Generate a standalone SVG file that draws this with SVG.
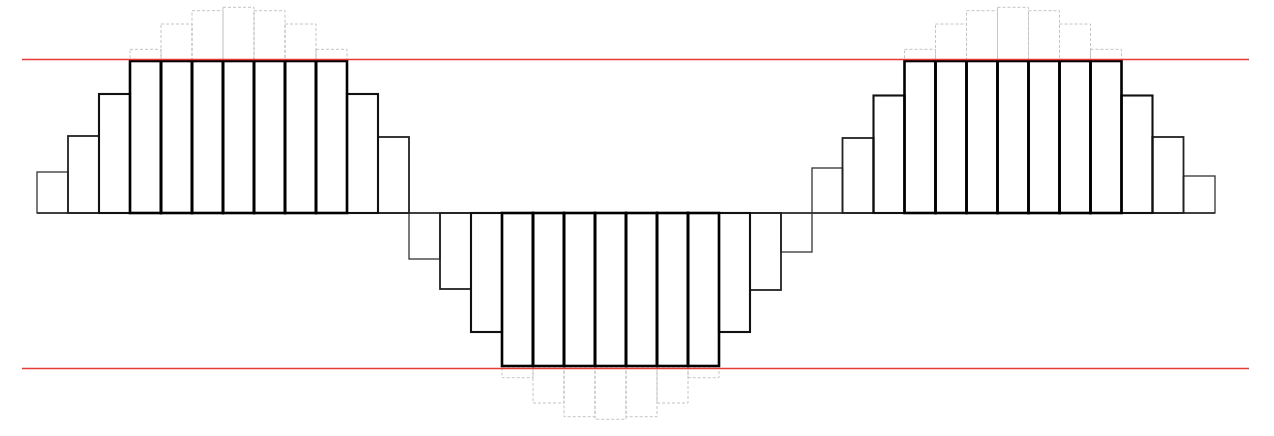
<svg xmlns="http://www.w3.org/2000/svg" width="1274" height="436" viewBox="0 0 1274 436">
<style>
.ghost{fill:none;stroke:#c4c4c4;stroke-width:1;stroke-dasharray:3 2}
.b1{fill:none;stroke:#333;stroke-width:1.3}
.b2{fill:none;stroke:#222;stroke-width:1.8}
.b3{fill:none;stroke:#111;stroke-width:2.1}
.bc{fill:none;stroke:#000;stroke-width:2.6}
.lim{stroke:#e53935;stroke-width:1.5}
.base{stroke:#222;stroke-width:1.3}
</style>
<rect width="1274" height="436" fill="#fff"/>
<g id="ghosts">
<rect class="ghost" x="130" y="49.3" width="31" height="11"/>
<rect class="ghost" x="161" y="24" width="31" height="36"/>
<rect class="ghost" x="192" y="10.7" width="31" height="49"/>
<rect class="ghost" x="223" y="7.3" width="31" height="53"/>
<rect class="ghost" x="254" y="10.7" width="31" height="49"/>
<rect class="ghost" x="285" y="24" width="31" height="36"/>
<rect class="ghost" x="316" y="49.3" width="31" height="11"/>
<rect class="ghost" x="502" y="367" width="31" height="10.7"/>
<rect class="ghost" x="533" y="367" width="31" height="36"/>
<rect class="ghost" x="564" y="367" width="31" height="49.7"/>
<rect class="ghost" x="595" y="367" width="31" height="52.3"/>
<rect class="ghost" x="626" y="367" width="31" height="49.7"/>
<rect class="ghost" x="657" y="367" width="31" height="36"/>
<rect class="ghost" x="688" y="367" width="31" height="10.7"/>
<rect class="ghost" x="904.5" y="49.3" width="31" height="11"/>
<rect class="ghost" x="935.5" y="24" width="31" height="36"/>
<rect class="ghost" x="966.5" y="10.7" width="31" height="49"/>
<rect class="ghost" x="997.5" y="7.3" width="31" height="53"/>
<rect class="ghost" x="1028.5" y="10.7" width="31" height="49"/>
<rect class="ghost" x="1059.5" y="24" width="31" height="36"/>
<rect class="ghost" x="1090.5" y="49.3" width="31" height="11"/>
</g>
<g id="baseline">
<line class="base" x1="37" y1="213" x2="1215" y2="213"/>
</g>
<g id="bars-small">
<rect class="b1" x="37" y="172" width="31" height="41"/>
<rect class="b1" x="409" y="213" width="31" height="46"/>
<rect class="b1" x="781" y="213" width="31" height="39"/>
<rect class="b1" x="812" y="168" width="30.5" height="45"/>
<rect class="b1" x="1183.5" y="176" width="31.5" height="37"/>
</g>
<g id="bars-medium">
<rect class="b2" x="68" y="136" width="31" height="77"/>
<rect class="b2" x="378" y="137" width="31" height="76"/>
<rect class="b2" x="440" y="213" width="31" height="76"/>
<rect class="b2" x="750" y="213" width="31" height="77"/>
<rect class="b2" x="842.5" y="138" width="31" height="75"/>
<rect class="b2" x="1152.5" y="137" width="31" height="76"/>
</g>
<g id="bars-large">
<rect class="b3" x="99" y="94" width="31" height="119"/>
<rect class="b3" x="347" y="94" width="31" height="119"/>
<rect class="b3" x="471" y="213" width="31" height="119"/>
<rect class="b3" x="719" y="213" width="31" height="119"/>
<rect class="b3" x="873.5" y="95.5" width="31" height="117.5"/>
<rect class="b3" x="1121.5" y="95.5" width="31" height="117.5"/>
</g>
<g id="bars-clipped">
<rect class="bc" x="130" y="61" width="31" height="152"/>
<rect class="bc" x="161" y="61" width="31" height="152"/>
<rect class="bc" x="192" y="61" width="31" height="152"/>
<rect class="bc" x="223" y="61" width="31" height="152"/>
<rect class="bc" x="254" y="61" width="31" height="152"/>
<rect class="bc" x="285" y="61" width="31" height="152"/>
<rect class="bc" x="316" y="61" width="31" height="152"/>
<rect class="bc" x="502" y="213" width="31" height="153"/>
<rect class="bc" x="533" y="213" width="31" height="153"/>
<rect class="bc" x="564" y="213" width="31" height="153"/>
<rect class="bc" x="595" y="213" width="31" height="153"/>
<rect class="bc" x="626" y="213" width="31" height="153"/>
<rect class="bc" x="657" y="213" width="31" height="153"/>
<rect class="bc" x="688" y="213" width="31" height="153"/>
<rect class="bc" x="904.5" y="61" width="31" height="152"/>
<rect class="bc" x="935.5" y="61" width="31" height="152"/>
<rect class="bc" x="966.5" y="61" width="31" height="152"/>
<rect class="bc" x="997.5" y="61" width="31" height="152"/>
<rect class="bc" x="1028.5" y="61" width="31" height="152"/>
<rect class="bc" x="1059.5" y="61" width="31" height="152"/>
<rect class="bc" x="1090.5" y="61" width="31" height="152"/>
</g>
<g id="limits">
<line class="lim" x1="22" y1="59.5" x2="1249" y2="59.5"/>
<line class="lim" x1="22" y1="368.5" x2="1249" y2="368.5"/>
</g>
</svg>
